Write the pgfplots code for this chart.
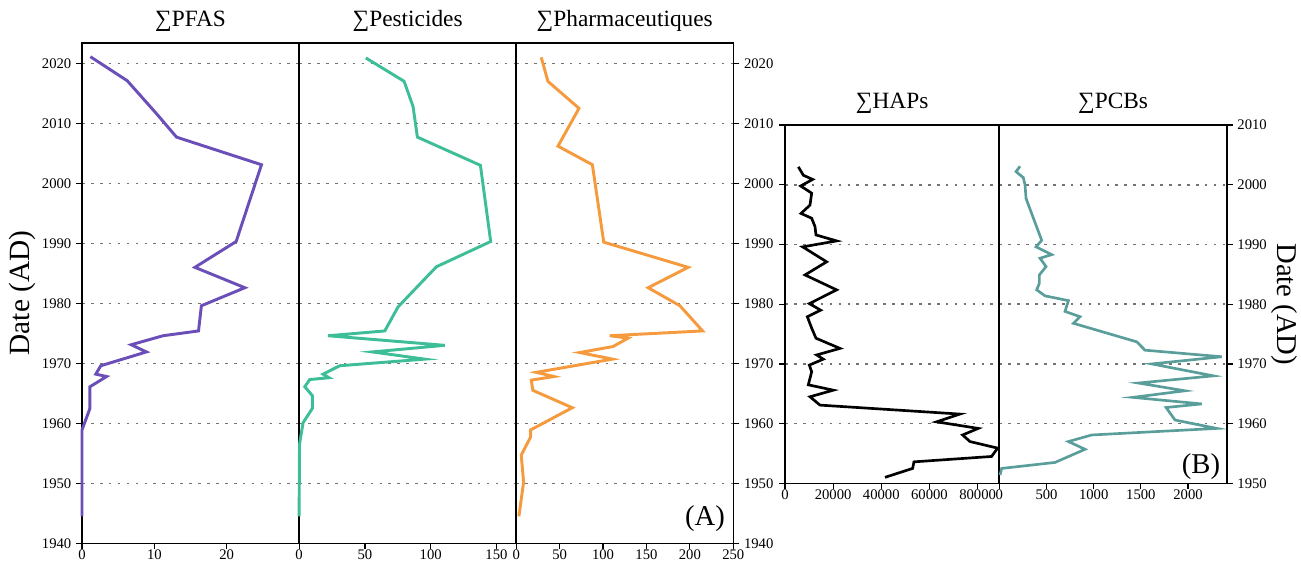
\documentclass[border=0pt]{standalone}
\usepackage{fontspec}
\setmainfont{Liberation Serif}
\usepackage{pgfplots}
\pgfplotsset{compat=1.18}
\definecolor{cpfas}{RGB}{107,78,184}
\definecolor{cpest}{RGB}{61,190,152}
\definecolor{cpharm}{RGB}{246,154,62}
\definecolor{cpcb}{RGB}{90,158,155}
\pgfplotsset{
  panel/.style={
    scale only axis, anchor=south west, clip=false,
    axis line style={line width=1.2pt},
    tick align=outside, major tick length=4.5pt,
    every tick/.style={black, line width=0.9pt},
    xtick pos=bottom,
    ymajorgrids,
    major grid style={black!55, line width=1.1pt, dash pattern=on 2pt off 4.7pt},
    tick label style={font=\fontsize{11}{12}\selectfont},
    xticklabel style={yshift=3.4pt},
    /pgf/number format/assume math mode=true,
    /pgf/number format/1000 sep={},
    scaled x ticks=false,
    title style={at={(0.5,1)}, anchor=base, yshift=6.5pt, inner sep=0pt, font=\fontsize{17.5}{20}\selectfont},
  },
  grpA/.style={panel, width=162.83pt, height=375.45pt, ymin=1940, ymax=2023.43, ytick={1940,1950,...,2020}},
  grpB/.style={panel, height=268.7pt, ymin=1950, ymax=2010, ytick={1950,1960,...,2010}},
}
\begin{document}
\begin{tikzpicture}
\useasboundingbox (0,0) rectangle (975.75pt,421.5pt);
% ---------- Group A ----------
\begin{axis}[grpA, at={(61.5pt,14pt)}, xmin=0, xmax=30, xtick={0,10,20},
  ytick pos=left, title={∑PFAS}, ylabel={Date (AD)},
  ylabel style={at={(axis description cs:-0.274,0.5)}, anchor=center, font=\fontsize{22}{26}\selectfont}]
\addplot[cpfas, line width=2.2pt] table {
x y
1.16 2021.1
6.25 2017.1
10.3 2011.6
13.06 2007.7
24.8 2003.1
21.3 1990.3
15.6 1986.0
22.5 1982.6
16.5 1979.6
16.1 1975.4
11.2 1974.6
6.8 1973.1
8.9 1971.9
2.6 1969.6
1.9 1968.2
3.4 1967.8
1.1 1966.1
1.1 1962.5
0 1958.9
0 1944.5
};
\end{axis}
\begin{axis}[grpA, at={(224.33pt,14pt)}, xmin=0, xmax=165, xtick={0,50,100,150},
  yticklabels={}, ytick style={draw=none}, title={∑Pesticides}]
\addplot[cpest, line width=2.2pt] table {
x y
50.7 2020.9
79.8 2017.0
86.6 2012.8
89.9 2007.7
137.8 2003.0
145.6 1990.3
104.4 1986.1
90.4 1982.9
75.2 1979.4
65.1 1975.4
22.0 1974.6
110.7 1973.0
55.7 1971.9
95.5 1970.7
30.9 1969.6
18.2 1968.2
22.8 1967.6
8.1 1967.3
4.3 1966.1
10.1 1964.6
10.1 1962.5
3.0 1960.1
0.3 1956.5
0 1944.5
};
\end{axis}
\begin{axis}[grpA, at={(387.15pt,14pt)}, xmin=0, xmax=250, xtick={0,50,...,250},
  ytick pos=right, yticklabel pos=right, title={∑Pharmaceutiques}]
\addplot[cpharm, line width=2.2pt] table {
x y
28.8 2021.0
36.5 2017.0
72.3 2012.5
48.1 2006.2
87.7 2003.1
100.8 1990.2
198 1986.0
151.9 1982.6
188.5 1979.6
214.6 1975.4
107.7 1974.6
128.8 1974.2
111.5 1972.8
73.1 1971.8
110.8 1970.7
23.1 1968.5
43.5 1967.8
17.3 1967.2
19.2 1965.5
64.6 1962.6
16.5 1958.9
16.5 1957.7
5.8 1954.7
8.5 1950.2
3.1 1944.5
};
\node[font=\fontsize{21.5}{24}\selectfont] at (rel axis cs:0.87,0.05) {(A)};
\end{axis}
% ---------- Group B ----------
\begin{axis}[grpB, at={(588.75pt,59pt)}, width=160.7pt, xmin=0, xmax=89000,
  xtick={0,20000,40000,60000,80000}, ytick pos=left, yticklabels={}, title={∑HAPs}]
\addplot[black, line width=2pt] table {
x y
5536 2003.0
7612 2001.6
11487 2000.9
6505 1999.8
11072 1998.6
10380 1996.6
6643 1995.2
11072 1994.4
12456 1993.0
12871 1991.6
21452 1990.6
7335 1989.6
17300 1987.1
8304 1984.9
21452 1982.4
10103 1980.1
14809 1979.0
9273 1977.9
11072 1976.0
12871 1974.3
22836 1972.6
13148 1971.5
15916 1970.8
10103 1969.8
11072 1968.7
9688 1966.5
20068 1965.6
10380 1964.5
14532 1963.1
72660 1961.6
62972 1960.3
80272 1959.2
73767 1958.1
76812 1957.0
88300 1955.9
85808 1954.5
53561 1953.6
53007 1952.5
41520 1951.0
};
\end{axis}
\begin{axis}[grpB, at={(749.5pt,59pt)}, width=170.55pt, xmin=0, xmax=2410,
  xtick={0,500,...,2000}, ytick pos=right, yticklabel pos=right, title={∑PCBs},
  ylabel={Date (AD)},
  ylabel style={at={(axis description cs:1.252,0.5)}, anchor=center, rotate=180, font=\fontsize{21.5}{26}\selectfont}]
\addplot[cpcb, line width=2pt] table {
x y
219 2003.1
177 2002.2
254 2001.2
272 2000.0
283 1997.7
449 1990.7
389 1989.6
555 1988.3
431 1987.7
495 1986.3
424 1984.9
424 1983.5
396 1982.4
484 1981.4
732 1980.6
696 1978.8
855 1977.9
785 1976.8
1456 1973.7
1544 1972.3
2357 1971.2
1615 1970.0
2269 1968.0
1474 1966.8
1968 1965.5
1414 1964.4
2145 1963.3
1767 1962.7
1862 1960.6
2304 1959.2
979 1958.1
732 1957.0
908 1955.7
590 1953.5
25 1952.5
7 1951.4
};
\node[font=\fontsize{21.5}{24}\selectfont] at (rel axis cs:0.887,0.046) {(B)};
\end{axis}
\end{tikzpicture}
\end{document}
